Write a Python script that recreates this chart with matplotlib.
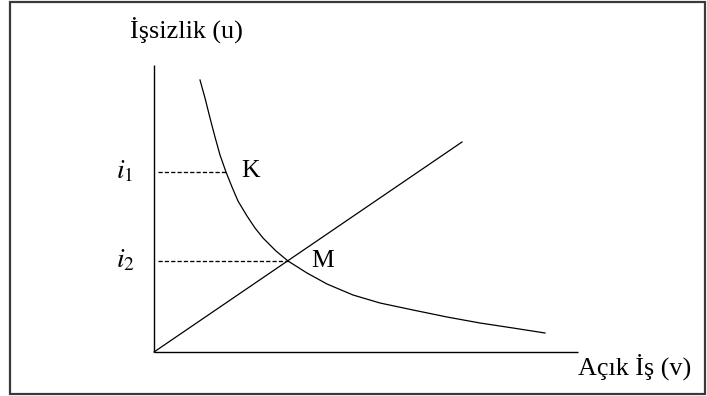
import matplotlib.pyplot as plt
from matplotlib.patches import Rectangle

# curve points (offset from the axis corner)
curve_v = [46, 51, 56, 61, 66, 72, 78, 84, 93, 101, 109, 122, 134,
           153, 173, 199, 226, 259, 293, 326, 359, 391]
curve_u = [272, 254, 234, 215, 197, 180, 165, 151, 136, 124, 114, 101, 91,
           79, 68, 57, 49, 42, 35, 29, 24, 19]

line_v = [0, 308]
line_u = [0, 210]

level_names = ["$i_1$", "$i_2$"]
level_u = [180, 91]
level_v = [72, 134]

point_names = ["K", "M"]
point_v = [87, 157]
point_u = [181, 91]

axis_top = 287
axis_right = 424

plt.rcParams["font.family"] = ["Liberation Serif", "DejaVu Serif"]
plt.rcParams["mathtext.fontset"] = "stix"

fig = plt.figure(figsize=(7.07, 3.96), dpi=100)
ax = fig.add_axes([0, 0, 1, 1])
ax.set_xlim(-154, 553)
ax.set_ylim(-44, 352)
ax.axis("off")

# frame around the chart
fig.patches.append(Rectangle((10 / 707, 2 / 396), 695 / 707, 392 / 396,
                             transform=fig.transFigure, fill=False,
                             edgecolor="#3a3a3a", linewidth=1.6))

ax.plot([0, 0], [0, axis_top], color="black", lw=1.0, solid_capstyle="butt")
ax.plot([0, axis_right], [0, 0], color="black", lw=1.0, solid_capstyle="butt")

ax.plot(curve_v, curve_u, color="black", lw=0.9)
ax.plot(line_v, line_u, color="black", lw=0.9)

for name, u, v in zip(level_names, level_u, level_v):
    ax.plot([4, v], [u, u], color="black", lw=0.95, dashes=(3.2, 1.6))
    ax.text(-29, u, name, fontsize=20, ha="center", va="center")

for name, v, u in zip(point_names, point_v, point_u):
    ax.text(v, u, name, fontsize=18.5, ha="left", va="center")

ax.text(-24, 322, "İşsizlik (u)", fontsize=18.8, ha="left", va="center")
ax.text(424, -15, "Açık İş (v)", fontsize=18.8, ha="left", va="center")

fig.savefig("out.png", dpi=100)
